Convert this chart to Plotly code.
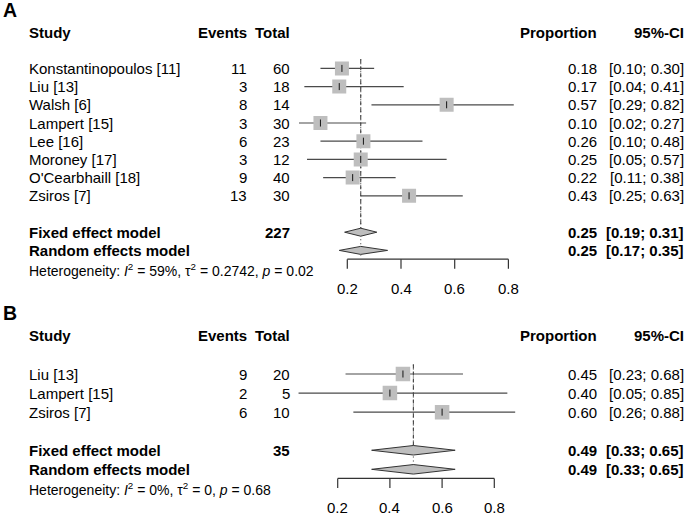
import plotly.graph_objects as go

# ---------------- data ----------------
a_study = ["Konstantinopoulos [11]", "Liu [13]", "Walsh [6]", "Lampert [15]",
           "Lee [16]", "Moroney [17]", "O'Cearbhaill [18]", "Zsiros [7]"]
a_events = [11, 3, 8, 3, 6, 3, 9, 13]
a_total = [60, 18, 14, 30, 23, 12, 40, 30]
a_prop = [0.18, 0.17, 0.57, 0.10, 0.26, 0.25, 0.22, 0.43]
a_lower = [0.10, 0.04, 0.29, 0.02, 0.10, 0.05, 0.11, 0.25]
a_upper = [0.30, 0.41, 0.82, 0.27, 0.48, 0.57, 0.38, 0.63]
a_fixed = [0.25, 0.19, 0.31]
a_random = [0.25, 0.17, 0.35]
a_sum_total = 227
a_het = ["59%", "0.2742", "0.02"]

b_study = ["Liu [13]", "Lampert [15]", "Zsiros [7]"]
b_events = [9, 2, 6]
b_total = [20, 5, 10]
b_prop = [0.45, 0.40, 0.60]
b_lower = [0.23, 0.05, 0.26]
b_upper = [0.68, 0.85, 0.88]
b_fixed = [0.49, 0.33, 0.65]
b_random = [0.49, 0.33, 0.65]
b_sum_total = 35
b_het = ["0%", "0", "0.68"]

tick_vals = [0.2, 0.4, 0.6, 0.8]
tick_text = ["0.2", "0.4", "0.6", "0.8"]

# ---------------- layout helpers ----------------
W, H = 685, 515
FONT = "Liberation Sans, Arial, sans-serif"
FS = 15
GRAY = "#bebebe"
LINE = "#4a4a4a"

panels = [
    dict(label="A", xa="x", ya="y", study=a_study, events=a_events, total=a_total,
         prop=a_prop, lo=a_lower, hi=a_upper, fixed=a_fixed, random=a_random,
         sumtot=a_sum_total, het=a_het,
         row0=32.0, unit=18.2, x0=293.6, xs=268.5, ypx=(0, 300), sq=14, dh=0.22),
    dict(label="B", xa="x2", ya="y2", study=b_study, events=b_events, total=b_total,
         prop=b_prop, lo=b_lower, hi=b_upper, fixed=b_fixed, random=b_random,
         sumtot=b_sum_total, het=b_het,
         row0=335.9, unit=19.06, x0=285.5, xs=261.0, ypx=(300, 515), sq=14.5, dh=0.25),
]

fig = go.Figure()
annotations = []
shapes = []


def px(v):
    return v / W


def txt(text, xpx, y, yref, anchor, bold=False, size=FS):
    if bold:
        text = "<b>" + text + "</b>"
    annotations.append(dict(text=text, x=px(xpx), xref="paper", y=y, yref=yref,
                            xanchor=anchor, yanchor="middle", showarrow=False,
                            borderpad=0,
                            font=dict(family=FONT, size=size, color="black")))


layout_axes = {}
for i, p in enumerate(panels):
    xa, ya = p["xa"], p["ya"]
    xname = "xaxis" if i == 0 else "xaxis2"
    yname = "yaxis" if i == 0 else "yaxis2"
    top, bot = p["ypx"]
    layout_axes[xname] = dict(domain=[px(p["x0"]), px(p["x0"] + p["xs"])], range=[0, 1],
                              visible=False, anchor=ya, fixedrange=True)
    layout_axes[yname] = dict(domain=[1 - bot / H, 1 - top / H],
                              range=[(bot - p["row0"]) / p["unit"], (top - p["row0"]) / p["unit"]],
                              visible=False, anchor=xa, fixedrange=True)

    n = len(p["study"])
    rows = [2 + k for k in range(n)]
    r_fixed = n + 3
    r_random = n + 4
    r_het = n + 5
    r_axis = r_random + 0.48
    u = p["unit"]

    # reference lines (fixed: dashed, random: dotted)
    fig.add_trace(go.Scatter(x=[p["fixed"][0]] * 2, y=[1.5, r_fixed], xaxis=xa, yaxis=ya,
                             mode="lines", line=dict(color="#444444", width=1.1, dash="4px,3px"),
                             hoverinfo="skip", showlegend=False))
    fig.add_trace(go.Scatter(x=[p["random"][0]] * 2, y=[1.5, r_random + 0.3], xaxis=xa, yaxis=ya,
                             mode="lines", line=dict(color="#444444", width=1.1, dash="1px,3px"),
                             hoverinfo="skip", showlegend=False))

    # CI lines
    cx, cy = [], []
    for r, lo, hi in zip(rows, p["lo"], p["hi"]):
        cx += [lo, hi, None]
        cy += [r, r, None]
    fig.add_trace(go.Scatter(x=cx, y=cy, xaxis=xa, yaxis=ya, mode="lines",
                             line=dict(color=LINE, width=1.2), hoverinfo="skip", showlegend=False))
    # squares
    fig.add_trace(go.Scatter(x=p["prop"], y=rows, xaxis=xa, yaxis=ya, mode="markers",
                             marker=dict(symbol="square", size=p["sq"], color=GRAY,
                                         line=dict(width=0)),
                             hoverinfo="skip", showlegend=False))
    # estimate ticks
    fig.add_trace(go.Scatter(x=p["prop"], y=rows, xaxis=xa, yaxis=ya, mode="markers",
                             marker=dict(symbol="line-ns", size=5, color="black",
                                         line=dict(width=0.9, color="black")),
                             hoverinfo="skip", showlegend=False))
    # diamonds
    for r, est in ((r_fixed, p["fixed"]), (r_random, p["random"])):
        m, lo, hi = est
        dh = p["dh"]
        fig.add_trace(go.Scatter(x=[lo, m, hi, m, lo], y=[r, r - dh, r, r + dh, r],
                                 xaxis=xa, yaxis=ya, mode="lines", fill="toself",
                                 fillcolor=GRAY, line=dict(color="#333333", width=1),
                                 hoverinfo="skip", showlegend=False))

    # bottom axis
    shapes.append(dict(type="line", xref=xa, yref=ya, x0=tick_vals[0], x1=tick_vals[-1],
                       y0=r_axis, y1=r_axis, line=dict(color="#333333", width=1.2)))
    for tv, tt in zip(tick_vals, tick_text):
        shapes.append(dict(type="line", xref=xa, yref=ya, x0=tv, x1=tv, y0=r_axis,
                           y1=r_axis + 9.5 / u, line=dict(color="#333333", width=1.2)))
        annotations.append(dict(text=tt, x=tv, xref=xa, y=r_axis + 29 / u, yref=ya,
                                xanchor="center", yanchor="middle", showarrow=False,
                                borderpad=0,
                                font=dict(family=FONT, size=FS, color="black")))

    # text columns
    X_STUDY, X_EV, X_TOT, X_PROP, X_CI = 28, 247.7, 290.7, 598, 684.5
    txt(p["label"], 2, -1.2, ya, "left", bold=True, size=19.5)
    txt("Study", X_STUDY, 0, ya, "left", bold=True)
    txt("Events", X_EV, 0, ya, "right", bold=True)
    txt("Total", X_TOT, 0, ya, "right", bold=True)
    txt("Proportion", X_PROP, 0, ya, "right", bold=True)
    txt("95%-CI", X_CI, 0, ya, "right", bold=True)
    for r, s, e, t, pr, lo, hi in zip(rows, p["study"], p["events"], p["total"],
                                      p["prop"], p["lo"], p["hi"]):
        txt(s, X_STUDY, r, ya, "left")
        txt(str(e), X_EV, r, ya, "right")
        txt(str(t), X_TOT, r, ya, "right")
        txt(f"{pr:.2f}", X_PROP, r, ya, "right")
        txt(f"[{lo:.2f}; {hi:.2f}]", X_CI, r, ya, "right")
    txt("Fixed effect model", X_STUDY, r_fixed, ya, "left", bold=True)
    txt(str(p["sumtot"]), X_TOT, r_fixed, ya, "right", bold=True)
    txt("Random effects model", X_STUDY, r_random, ya, "left", bold=True)
    for r, est in ((r_fixed, p["fixed"]), (r_random, p["random"])):
        txt(f"{est[0]:.2f}", X_PROP, r, ya, "right", bold=True)
        txt(f"[{est[1]:.2f}; {est[2]:.2f}]", X_CI, r, ya, "right", bold=True)
    i2, t2, pv = p["het"]
    txt(f"Heterogeneity: <i>I</i><sup>2</sup> = {i2}, τ<sup>2</sup> = {t2}, <i>p</i> = {pv}",
        X_STUDY, r_het + 0.05, ya, "left", size=14)

fig.update_layout(width=W, height=H, margin=dict(l=0, r=0, t=0, b=0),
                  paper_bgcolor="white", plot_bgcolor="white",
                  annotations=annotations, shapes=shapes, showlegend=False,
                  **layout_axes)

fig.write_html("out.html", config={"displayModeBar": False},
               post_script="document.body.style.margin='0px';")
